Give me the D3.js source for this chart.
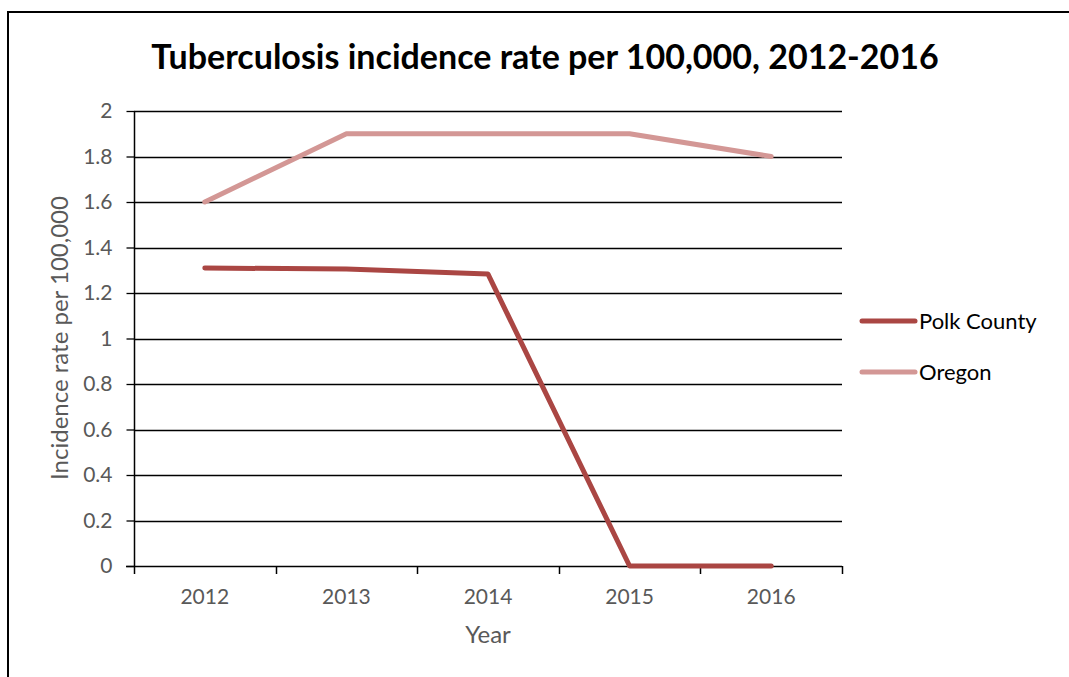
<!DOCTYPE html>
<html><head><meta charset="utf-8">
<script src="https://cdn.jsdelivr.net/npm/d3@7"></script>
<style>body{margin:0;background:#fff;} svg{display:block;} text{font-family:Lato, "Open Sans", sans-serif;}</style>
</head><body>
<svg id="chart" width="1069" height="677"></svg>
<script>
const years = ["2012","2013","2014","2015","2016"];
const polkCounty = [1.31, 1.305, 1.283, 0, 0];
const oregon = [1.6, 1.9, 1.9, 1.9, 1.8];
const yTicks = [0,0.2,0.4,0.6,0.8,1,1.2,1.4,1.6,1.8,2];
const seriesNames = ["Polk County","Oregon"];
const colors = ["#AA4643","#D39795"];

const svg = d3.select("#chart");
svg.append("rect").attr("x",8).attr("y",12).attr("width",1080).attr("height",700)
  .attr("fill","none").attr("stroke","#000").attr("stroke-width",2);

const L=134,R=842,T=111,B=566;
const x = d3.scaleBand().domain(years).range([L,R]);
const y = d3.scaleLinear().domain([0,2]).range([B,T]);

// gridlines
svg.append("g").selectAll("line").data(yTicks.filter(d=>d>0)).join("line")
  .attr("x1",L).attr("x2",R).attr("y1",d=>Math.round(y(d))+0.5).attr("y2",d=>Math.round(y(d))+0.5)
  .attr("stroke","#000").attr("stroke-width",1.3);

// y axis
const yAxis = d3.axisLeft(y).tickValues(yTicks).tickSize(8).tickPadding(14).tickFormat(d=>d3.format("")(d));
const gy = svg.append("g").attr("transform",`translate(${L+0.5},0)`).call(yAxis);
gy.select(".domain").attr("stroke","#000").attr("stroke-width",1.5).attr("d",`M0,${T}V${B}`);
gy.selectAll(".tick line").attr("stroke","#000").attr("stroke-width",1.3).attr("x2",-8);
gy.selectAll(".tick text").attr("fill","#595959").style("font-size","21px").style("font-family","Lato, sans-serif");

// x axis
const xAxis = d3.axisBottom(x).tickSize(0).tickPadding(23);
const gx = svg.append("g").attr("transform",`translate(0,${Math.round(B)+0.5})`).call(xAxis);
gx.select(".domain").remove();
gx.selectAll(".tick text").attr("fill","#595959").style("font-size","21px").style("font-family","Lato, sans-serif");
svg.append("line").attr("x1",L-8).attr("x2",R).attr("y1",B+0.5).attr("y2",B+0.5).attr("stroke","#000").attr("stroke-width",1.5);
const edges = years.map(d=>x(d)).concat([R]);
svg.append("g").selectAll("line").data(edges).join("line")
  .attr("x1",d=>Math.round(d)+0.5).attr("x2",d=>Math.round(d)+0.5).attr("y1",B).attr("y2",B+8)
  .attr("stroke","#000").attr("stroke-width",1.5);

// lines
const line = d3.line().x((d,i)=>x(years[i])+x.bandwidth()/2).y(d=>y(d));
[polkCounty, oregon].forEach((s,k)=>{
  svg.append("path").datum(s).attr("d",line).attr("fill","none")
    .attr("stroke",colors[k]).attr("stroke-width",5).attr("stroke-linejoin","round").attr("stroke-linecap","round");
});

// title
svg.append("text").attr("x",545).attr("y",69).attr("text-anchor","middle")
  .style("font-size","34px").style("font-weight","bold").attr("fill","#000")
  .text("Tuberculosis incidence rate per 100,000, 2012-2016");

// axis titles
svg.append("text").attr("x",488).attr("y",643).attr("text-anchor","middle")
  .style("font-size","24px").attr("fill","#595959").text("Year");
svg.append("text").attr("transform","translate(68,338) rotate(-90)").attr("text-anchor","middle")
  .style("font-size","24px").attr("fill","#595959").text("Incidence rate per 100,000");

// legend
const lg = svg.append("g");
seriesNames.forEach((n,i)=>{
  const yy = 321 + i*51;
  lg.append("line").attr("x1",862).attr("x2",915).attr("y1",yy).attr("y2",yy)
    .attr("stroke",colors[i]).attr("stroke-width",5).attr("stroke-linecap","round");
  lg.append("text").attr("x",919).attr("y",yy+8).style("font-size","22px").attr("fill","#000").text(n);
});
</script>
</body></html>
